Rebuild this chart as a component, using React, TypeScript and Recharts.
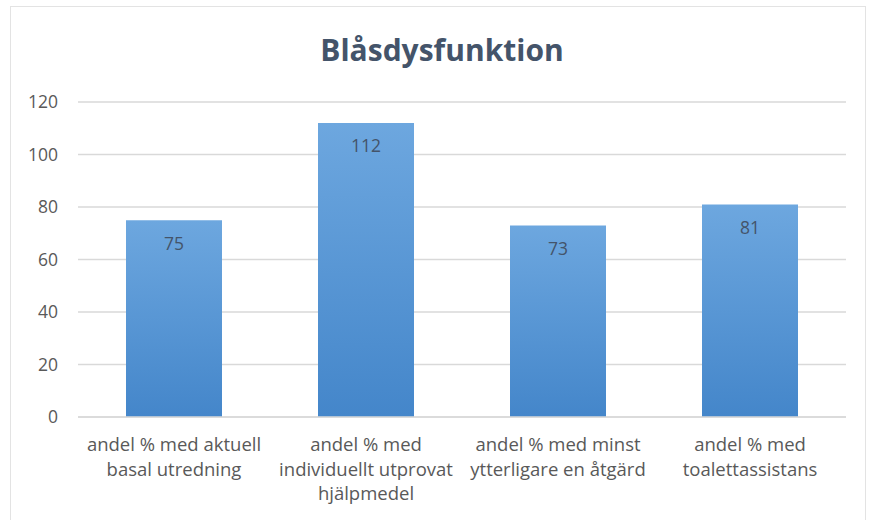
import React from "react";
import { BarChart, Bar, XAxis, YAxis, CartesianGrid, LabelList } from "recharts";

const categories = [
  "andel % med aktuell basal utredning",
  "andel % med individuellt utprovat hjälpmedel",
  "andel % med minst ytterligare en åtgärd",
  "andel % med toalettassistans",
];
const categoryLines = [
  ["andel % med aktuell", "basal utredning"],
  ["andel % med", "individuellt utprovat", "hjälpmedel"],
  ["andel % med minst", "ytterligare en åtgärd"],
  ["andel % med", "toalettassistans"],
];
const values = [75, 112, 73, 81];
const yTicks = [0, 20, 40, 60, 80, 100, 120];
const title = "Blåsdysfunktion";

const data = categories.map((c, i) => ({ name: c, value: values[i], idx: i }));

const FONT = "'Open Sans', Lato, sans-serif";

const XTick = (props: any) => {
  const { x, y, payload } = props;
  const lines = categoryLines[payload.index] || [payload.value];
  return (
    <g>
      {lines.map((l: string, i: number) => (
        <text
          key={i}
          x={x}
          y={y + 26}
          dy={i * 24.5}
          textAnchor="middle"
          fill="#595959"
          fontSize={18.5}
          fontFamily={FONT}
        >
          {l}
        </text>
      ))}
    </g>
  );
};

export default function App() {
  return (
    <div
      style={{
        position: "absolute",
        left: 0,
        top: 0,
        width: 869,
        height: 520,
        background: "#fff",
        overflow: "hidden",
      }}
    >
      <div
        style={{
          position: "absolute",
          left: 10,
          top: 6,
          width: 856,
          height: 530,
          border: "1px solid #e3e3e3",
          boxSizing: "border-box",
        }}
      />
      <div style={{ position: "absolute", left: 0, top: 0 }}>
        <BarChart
          width={869}
          height={520}
          data={data}
          margin={{ top: 102, right: 23, bottom: 73, left: 0 }}
          barCategoryGap="25%"
        >
          <defs>
            <linearGradient id="barGrad" x1="0" y1="0" x2="0" y2="1">
              <stop offset="0%" stopColor="#6DA7DF" />
              <stop offset="100%" stopColor="#4486CA" />
            </linearGradient>
          </defs>
          <text
            x={442}
            y={61}
            textAnchor="middle"
            fontSize={30}
            fontWeight="bold"
            fill="#44546A"
            fontFamily={FONT}
          >
            {title}
          </text>
          <CartesianGrid vertical={false} stroke="#d9d9d9" strokeWidth={1.5} />
          <XAxis
            dataKey="name"
            height={30}
            axisLine={{ stroke: "#d9d9d9", strokeWidth: 1.5 }}
            tickLine={false}
            interval={0}
            tick={<XTick />}
          />
          <YAxis
            width={78}
            domain={[0, 120]}
            ticks={yTicks}
            axisLine={false}
            tickLine={false}
            tickMargin={14}
            tick={{ fill: "#595959", fontSize: 17.5, fontFamily: FONT }}
          />
          <Bar dataKey="value" fill="url(#barGrad)" isAnimationActive={false}>
            <LabelList
              dataKey="value"
              position="insideTop"
              offset={17}
              fill="#44546A"
              fontSize={17.5}
              fontFamily={FONT}
            />
          </Bar>
        </BarChart>
      </div>
    </div>
  );
}
